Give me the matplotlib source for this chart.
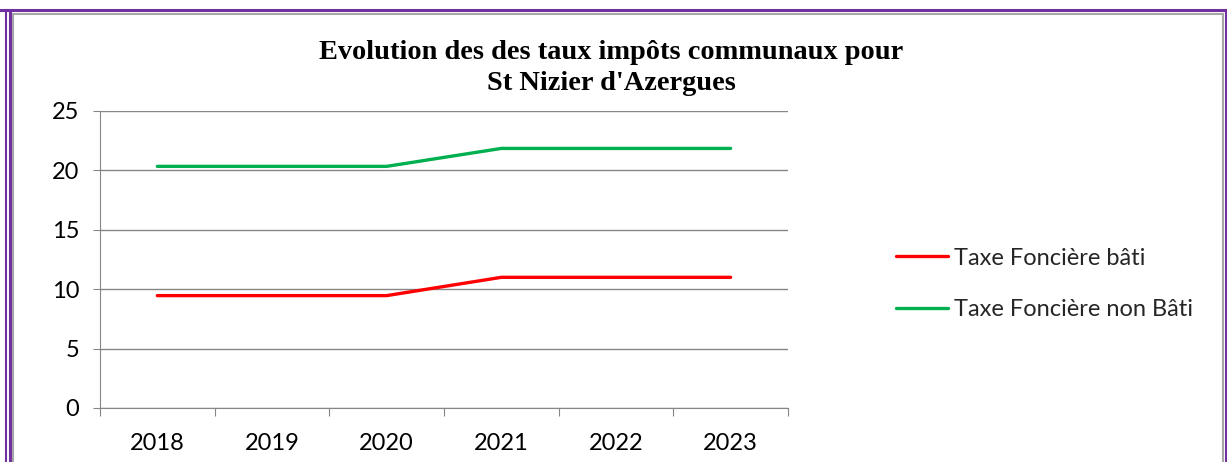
import matplotlib.pyplot as plt
from matplotlib.lines import Line2D

years = ["2018", "2019", "2020", "2021", "2022", "2023"]
bati = [9.46, 9.46, 9.46, 11.0, 11.0, 11.0]
non_bati = [20.34, 20.34, 20.34, 21.85, 21.85, 21.85]

W, H = 1227, 462
fig = plt.figure(figsize=(W / 100, H / 100), dpi=100)

# frame around the chart (purple double line + grey inner line)
def fline(x0, y0, x1, y1, color, lw):
    fig.add_artist(Line2D([x0 / W, x1 / W], [1 - y0 / H, 1 - y1 / H],
                          transform=fig.transFigure, color=color, lw=lw))

purple = "#7030A0"
fline(0, 10, W, 10, purple, 2.2)
fline(6, 10, 6, H, purple, 1.5)
fline(10, 10, 10, H, purple, 2.2)
fline(1225.5, 10, 1225.5, H, purple, 2.2)
fline(13, 13.5, 1223, 13.5, "#A6A6A6", 1.5)
fline(13, 13.5, 13, H, "#A6A6A6", 1.5)
fline(1223, 13.5, 1223, H, "#A6A6A6", 1.5)

ax = fig.add_axes([100 / W, 1 - 408 / H, 688 / W, 297 / H])
x = list(range(len(years)))
ax.plot(x, bati, color="#FF0000", lw=2.4, label="Taxe Foncière bâti", solid_capstyle="round")
ax.plot(x, non_bati, color="#00B050", lw=2.4, label="Taxe Foncière non Bâti", solid_capstyle="round")

ax.set_xlim(-0.5, len(years) - 0.5)
ax.set_ylim(0, 25)
ax.set_yticks(range(0, 26, 5))
ax.grid(axis="y", color="#868686", lw=1)
ax.set_axisbelow(True)

ax.set_xticks([i - 0.5 for i in range(len(years) + 1)])
ax.set_xticklabels([])
ax.set_xticks(x, minor=True)
ax.set_xticklabels(years, minor=True)
ax.tick_params(axis="x", which="major", direction="out", length=6, color="#868686")
ax.tick_params(axis="x", which="minor", length=0, pad=18)
ax.tick_params(axis="y", direction="out", length=5, color="#868686", pad=10)
for lab in ax.get_xticklabels(minor=True) + ax.get_yticklabels():
    lab.set_fontfamily("Lato")
    lab.set_fontsize(17)

for s in ["top", "right"]:
    ax.spines[s].set_visible(False)
for s in ["left", "bottom"]:
    ax.spines[s].set_color("#868686")

fig.text(611 / W, 1 - 68 / H, "Evolution des des taux impôts communaux pour\nSt Nizier d'Azergues",
         ha="center", va="center", fontsize=20.4, fontweight="bold",
         family="Liberation Serif", linespacing=1.3)

leg = fig.legend(loc="center left", bbox_to_anchor=(875 / W, 1 - 284 / H),
                 frameon=False, prop={"family": "Lato", "size": 17},
                 handlelength=2.2, handletextpad=0.25, labelspacing=1.3)
for t in leg.get_texts():
    t.set_color("#262626")

fig.savefig("out.png", dpi=100)
